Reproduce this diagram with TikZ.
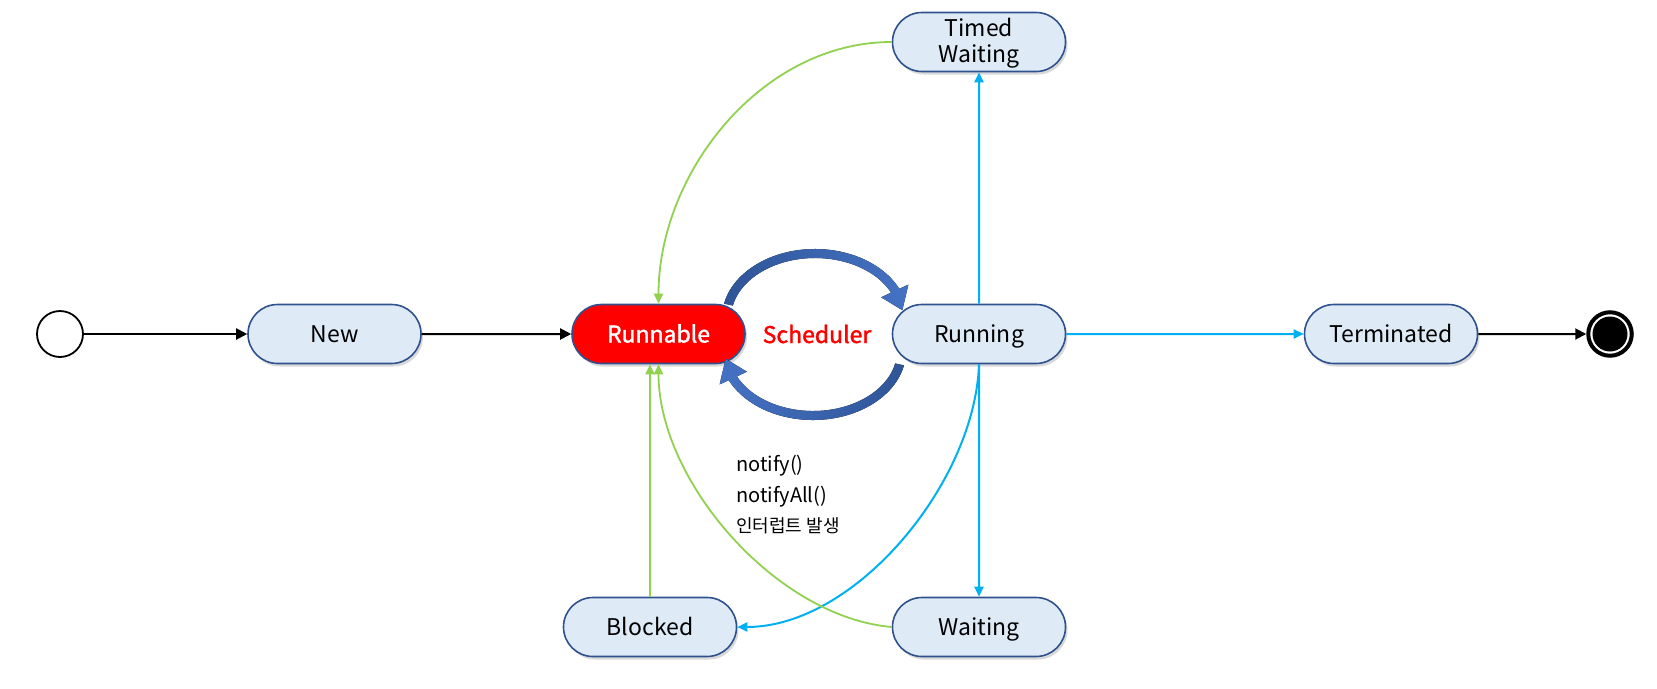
\documentclass[tikz,border=0pt]{standalone}
\usepackage{fontspec}
\setmainfont{Noto Sans CJK KR}
\newfontfamily\semibold[FakeBold=1.6]{Noto Sans CJK KR}
\usetikzlibrary{arrows.meta,positioning,shapes.misc,shadows,calc}
\definecolor{stateFill}{HTML}{DEEBF7}
\definecolor{stateLine}{HTML}{2F528F}
\definecolor{goGreen}{HTML}{92D050}
\definecolor{goCyan}{HTML}{00B0F0}
\definecolor{schedDark}{HTML}{2F5597}
\definecolor{schedLight}{HTML}{4472C4}

\begin{document}
\begin{tikzpicture}[
x=1pt, y=1pt,
state/.style={draw=stateLine, line width=1.6pt, rounded rectangle, fill=stateFill, align=center, minimum width=173pt, minimum height=59pt, inner sep=0pt, text height=17pt, text depth=0pt, font=\fontsize{23}{26}\selectfont, drop shadow={shadow xshift=2pt, shadow yshift=-3pt, opacity=0.3}},
pseudo/.style={circle, draw, inner sep=0pt},
flow/.style={-{Triangle[length=11pt,width=11pt]}, line width=2pt},
blueflow/.style={-{Triangle[length=10pt,width=9pt]}, line width=2pt, goCyan},
greenflow/.style={-{Triangle[length=10pt,width=9pt]}, line width=1.8pt, goGreen}
]
\useasboundingbox (0,0) rectangle (1657,-688);

\node[pseudo, line width=1.8pt, fill=white, minimum size=46pt] (init) at (60,-334) {};
\node[state] (new) at (334.5,-334) {New};
\node[state, fill=red, text=white, font=\fontsize{23}{26}\selectfont\semibold] (runnable) at (658.5,-334) {Runnable};
\node[text=red, font=\fontsize{23}{26}\selectfont\semibold] (sched) at (817,-334) {Scheduler};
\node[state] (running) at (979,-334) {Running};
\node[state] (terminated) at (1391,-334) {Terminated};
\node[pseudo, line width=4pt, minimum size=43.5pt] (final) at (1610,-334) {};
\node[circle, fill=black, inner sep=0pt, minimum size=35pt] (finaldot) at (final) {};
\node[state, text height=41pt] (timed) at (979,-42) {Timed\\Waiting};
\node[state] (blocked) at (650,-627) {Blocked};
\node[state] (waiting) at (979,-627) {Waiting};
\node[anchor=north west, align=left, inner sep=0pt, font=\fontsize{20}{30.5}\selectfont] (wakeup) at (736,-455) {notify()\\notifyAll()\\{\fontsize{18}{20}\selectfont 인터럽트 발생}};

% scheduler loop
\coordinate (topc) at (815,-318);
\coordinate (botc) at (813,-351);
\fill[left color=schedDark, right color=schedLight]
  ($(topc)+(168:93 and 69)$) arc[start angle=168, end angle=25, x radius=93, y radius=69]
  -- ($(topc)+(25:103 and 79)$) -- ($(topc)+(7:88 and 64)$) -- ($(topc)+(25:73 and 49)$)
  -- ($(topc)+(25:84 and 60)$) arc[start angle=25, end angle=168, x radius=84, y radius=60] -- cycle;
\fill[left color=schedLight, right color=schedDark]
  ($(botc)+(348:93 and 69)$) arc[start angle=348, end angle=205, x radius=93, y radius=69]
  -- ($(botc)+(205:103 and 79)$) -- ($(botc)+(187:88 and 64)$) -- ($(botc)+(205:73 and 49)$)
  -- ($(botc)+(205:84 and 60)$) arc[start angle=205, end angle=348, x radius=84, y radius=60] -- cycle;

\draw[flow] (init) -- (new);
\draw[flow] (new) -- (runnable);
\draw[flow] (terminated) -- (final);
\draw[blueflow] (running) -- (terminated);
\draw[blueflow] (running) -- (timed);
\draw[blueflow] (running) -- (waiting);
\draw[blueflow] (running.south) to[out=-92, in=0, looseness=0.85] (blocked.east);
\draw[greenflow] (timed.west) to[out=180, in=90, looseness=0.95] (runnable.north);
\draw[greenflow] (blocked.north) -- (blocked.north |- runnable.south);
\draw[greenflow] (waiting.west) to[out=175, in=-90, looseness=0.85] (runnable.south);
\end{tikzpicture}
\end{document}
